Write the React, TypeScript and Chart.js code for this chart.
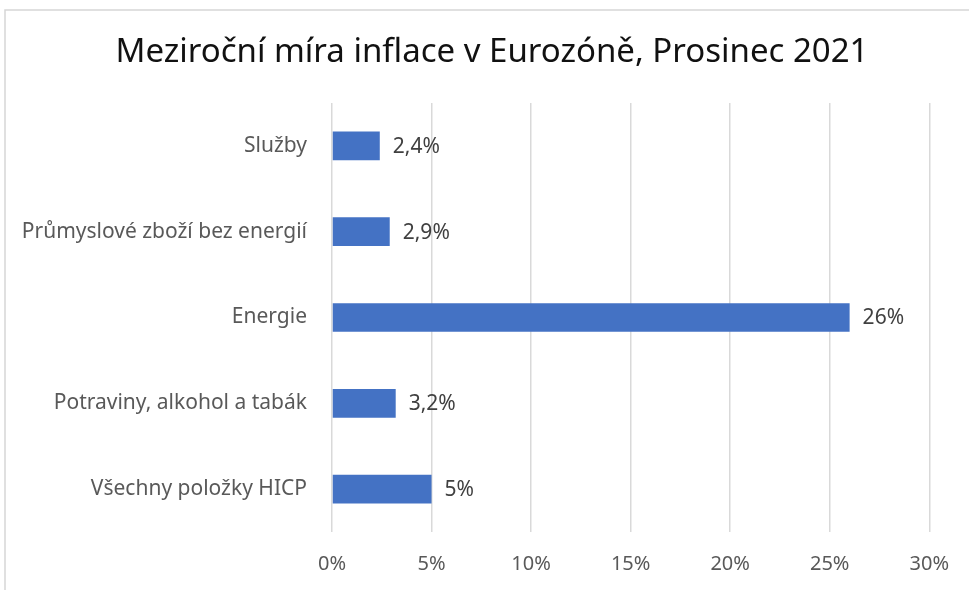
import React, { useEffect, useRef } from "react";
import { Chart, registerables } from "chart.js";

Chart.register(...registerables);

const TITLE = "Meziroční míra inflace v Eurozóně, Prosinec 2021";
const categories = [
  "Služby",
  "Průmyslové zboží bez energií",
  "Energie",
  "Potraviny, alkohol a tabák",
  "Všechny položky HICP",
];
const values = [2.4, 2.9, 26, 3.2, 5];
const xMin = 0;
const xMax = 30;
const xStep = 5;

const FONT = "'Noto Sans', 'Open Sans', sans-serif";

const fmt = (v: number) => String(v).replace(".", ",") + "%";

const framePlugin = {
  id: "frameAndTitle",
  beforeDraw(chart: any) {
    const ctx = chart.ctx;
    ctx.save();
    ctx.strokeStyle = "#d6d6d6";
    ctx.lineWidth = 1.5;
    ctx.strokeRect(5, 10, 2000, 2000);
    ctx.fillStyle = "#111111";
    ctx.font = `33px ${FONT}`;
    ctx.textAlign = "center";
    ctx.textBaseline = "alphabetic";
    ctx.fillText(TITLE, 492, 62);
    ctx.restore();
  },
};

const labelPlugin = {
  id: "valueLabels",
  afterDatasetsDraw(chart: any) {
    const ctx = chart.ctx;
    const meta = chart.getDatasetMeta(0);
    ctx.save();
    ctx.font = `21px ${FONT}`;
    ctx.fillStyle = "#404040";
    ctx.textAlign = "left";
    ctx.textBaseline = "middle";
    meta.data.forEach((bar: any, i: number) => {
      ctx.fillText(fmt(values[i]), bar.x + 13, bar.y + 1);
    });
    ctx.restore();
  },
};

export default function App() {
  const ref = useRef<HTMLCanvasElement>(null);
  useEffect(() => {
    if (!ref.current) return;
    const chart = new Chart(ref.current, {
      type: "bar",
      data: {
        labels: categories,
        datasets: [
          {
            data: values,
            backgroundColor: "#4472C4",
            borderWidth: 0,
            barPercentage: 0.335,
            categoryPercentage: 1,
          },
        ],
      },
      options: {
        indexAxis: "y",
        animation: false,
        responsive: false,
        maintainAspectRatio: false,
        layout: { padding: { left: 0, right: 39, top: 103, bottom: 0 } },
        plugins: {
          legend: { display: false },
          tooltip: { enabled: false },
          title: { display: false },
        },
        scales: {
          x: {
            min: xMin,
            max: xMax,
            ticks: {
              stepSize: xStep,
              padding: 20,
              color: "#595959",
              font: { family: FONT, size: 20 },
              callback: (v: any) => v + "%",
            },
            grid: { color: "#d9d9d9", lineWidth: 1.5, drawTicks: false },
            border: { display: false },
            afterFit: (s: any) => {
              s.height = 58;
            },
          },
          y: {
            ticks: {
              padding: 25,
              color: "#595959",
              font: { family: FONT, size: 21 },
            },
            grid: { display: false, drawTicks: false },
            border: { display: false },
            afterFit: (s: any) => {
              s.width = 332;
            },
          },
        },
      },
      plugins: [framePlugin, labelPlugin],
    });
    return () => chart.destroy();
  }, []);
  return (
    <div style={{ position: "fixed", left: 0, top: 0, width: 969, height: 590, background: "#fff" }}>
      <canvas ref={ref} width={969} height={590} style={{ width: 969, height: 590 }} />
    </div>
  );
}
